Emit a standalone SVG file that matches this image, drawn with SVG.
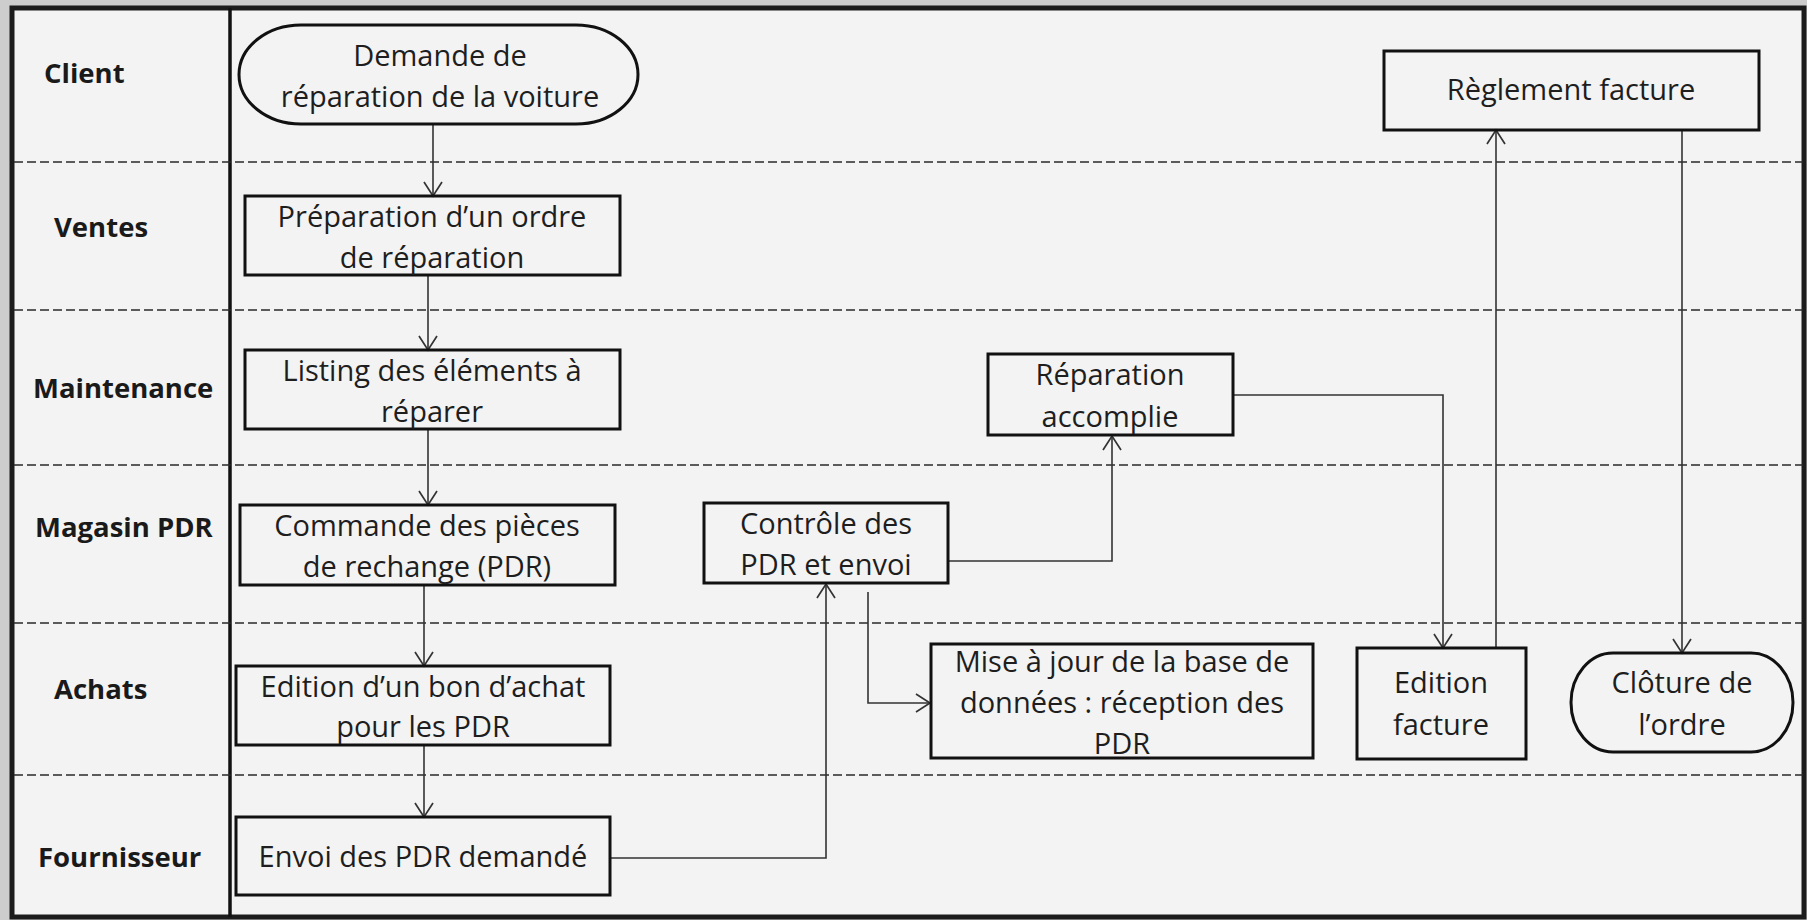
<svg xmlns="http://www.w3.org/2000/svg" width="1807" height="920" viewBox="0 0 1807 920">
  <defs>
    <marker id="arrow" markerUnits="userSpaceOnUse" markerWidth="18" markerHeight="20" viewBox="0 0 16 20" refX="15" refY="10" orient="auto" overflow="visible">
      <path d="M1,1 L15,10 L1,19" fill="none" stroke="#333" stroke-width="1.7"/>
    </marker>
    <style>
      .lane { font-family: "Open Sans", "Liberation Sans", sans-serif; font-weight: bold; font-size: 27.5px; fill: #1a1a1a; }
      .box { fill: none; stroke: #111; stroke-width: 3; }
      .txt { font-family: "Open Sans", "Liberation Sans", sans-serif; font-size: 29px; fill: #1e1e1e; text-anchor: middle; }
      .sep { stroke: #2a2a2a; stroke-width: 1.7; stroke-dasharray: 9 4; }
      .link { fill: none; stroke: #333; stroke-width: 1.6; marker-end: url(#arrow); }
    </style>
  </defs>

  <!-- page frame -->
  <rect x="0" y="0" width="1807" height="920" fill="#cdcdcd"/>
  <rect x="12" y="8" width="1792" height="909" fill="#f3f3f3" stroke="#1c1c1c" stroke-width="5"/>
  <line x1="230" y1="8" x2="230" y2="917" stroke="#111" stroke-width="3.5"/>

  <!-- swimlane separators -->
  <g id="lanes">
    <line class="sep" x1="14" y1="162" x2="1803" y2="162"/>
    <line class="sep" x1="14" y1="310" x2="1803" y2="310"/>
    <line class="sep" x1="14" y1="465" x2="1803" y2="465"/>
    <line class="sep" x1="14" y1="623" x2="1803" y2="623"/>
    <line class="sep" x1="14" y1="775" x2="1803" y2="775"/>
    <text class="lane" x="44" y="83">Client</text>
    <text class="lane" x="54" y="237">Ventes</text>
    <text class="lane" x="33" y="398">Maintenance</text>
    <text class="lane" x="35" y="537">Magasin PDR</text>
    <text class="lane" x="54" y="699">Achats</text>
    <text class="lane" x="38" y="867">Fournisseur</text>
  </g>

  <!-- connectors -->
  <g id="connectors">
    <path class="link" d="M433,124 V196"/>
    <path class="link" d="M428,275 V350"/>
    <path class="link" d="M428,429 V505"/>
    <path class="link" d="M424,585 V666"/>
    <path class="link" d="M424,745 V817"/>
    <path class="link" d="M610,858 H826 V584"/>
    <path class="link" d="M948,561 H1112 V436"/>
    <path class="link" d="M868,592 V703 H930"/>
    <path class="link" d="M1233,395 H1443 V648"/>
    <path class="link" d="M1496,648 V130"/>
    <path class="link" d="M1682,130 V653"/>
  </g>

  <!-- activities -->
  <g id="demande">
    <rect class="box" x="239" y="25" width="399" height="99" rx="62" ry="49.5"/>
    <text class="txt" x="440" y="66">Demande de</text>
    <text class="txt" x="440" y="107">réparation de la voiture</text>
  </g>
  <g id="preparation">
    <rect class="box" x="245" y="196" width="375" height="79"/>
    <text class="txt" x="432" y="227">Préparation d’un ordre</text>
    <text class="txt" x="432" y="268">de réparation</text>
  </g>
  <g id="listing">
    <rect class="box" x="245" y="350" width="375" height="79"/>
    <text class="txt" x="432" y="381">Listing des éléments à</text>
    <text class="txt" x="432" y="422">réparer</text>
  </g>
  <g id="commande">
    <rect class="box" x="240" y="505" width="375" height="80"/>
    <text class="txt" x="427" y="536">Commande des pièces</text>
    <text class="txt" x="427" y="577">de rechange (PDR)</text>
  </g>
  <g id="bon-achat">
    <rect class="box" x="236" y="666" width="374" height="79"/>
    <text class="txt" x="423" y="697">Edition d’un bon d’achat</text>
    <text class="txt" x="423" y="737">pour les PDR</text>
  </g>
  <g id="envoi">
    <rect class="box" x="236" y="817" width="374" height="78"/>
    <text class="txt" x="423" y="867">Envoi des PDR demandé</text>
  </g>
  <g id="controle">
    <rect class="box" x="704" y="503" width="244" height="80"/>
    <text class="txt" x="826" y="534">Contrôle des</text>
    <text class="txt" x="826" y="575">PDR et envoi</text>
  </g>
  <g id="reparation">
    <rect class="box" x="988" y="354" width="245" height="81"/>
    <text class="txt" x="1110" y="385">Réparation</text>
    <text class="txt" x="1110" y="427">accomplie</text>
  </g>
  <g id="mise-a-jour">
    <rect class="box" x="931" y="644" width="382" height="114"/>
    <text class="txt" x="1122" y="672">Mise à jour de la base de</text>
    <text class="txt" x="1122" y="713">données : réception des</text>
    <text class="txt" x="1122" y="754">PDR</text>
  </g>
  <g id="edition-facture">
    <rect class="box" x="1357" y="648" width="169" height="111"/>
    <text class="txt" x="1441" y="693">Edition</text>
    <text class="txt" x="1441" y="735">facture</text>
  </g>
  <g id="reglement">
    <rect class="box" x="1384" y="51" width="375" height="79"/>
    <text class="txt" x="1571" y="100">Règlement facture</text>
  </g>
  <g id="cloture">
    <rect class="box" x="1571" y="653" width="222" height="99" rx="42" ry="49.5"/>
    <text class="txt" x="1682" y="693">Clôture de</text>
    <text class="txt" x="1682" y="735">l’ordre</text>
  </g>
</svg>
